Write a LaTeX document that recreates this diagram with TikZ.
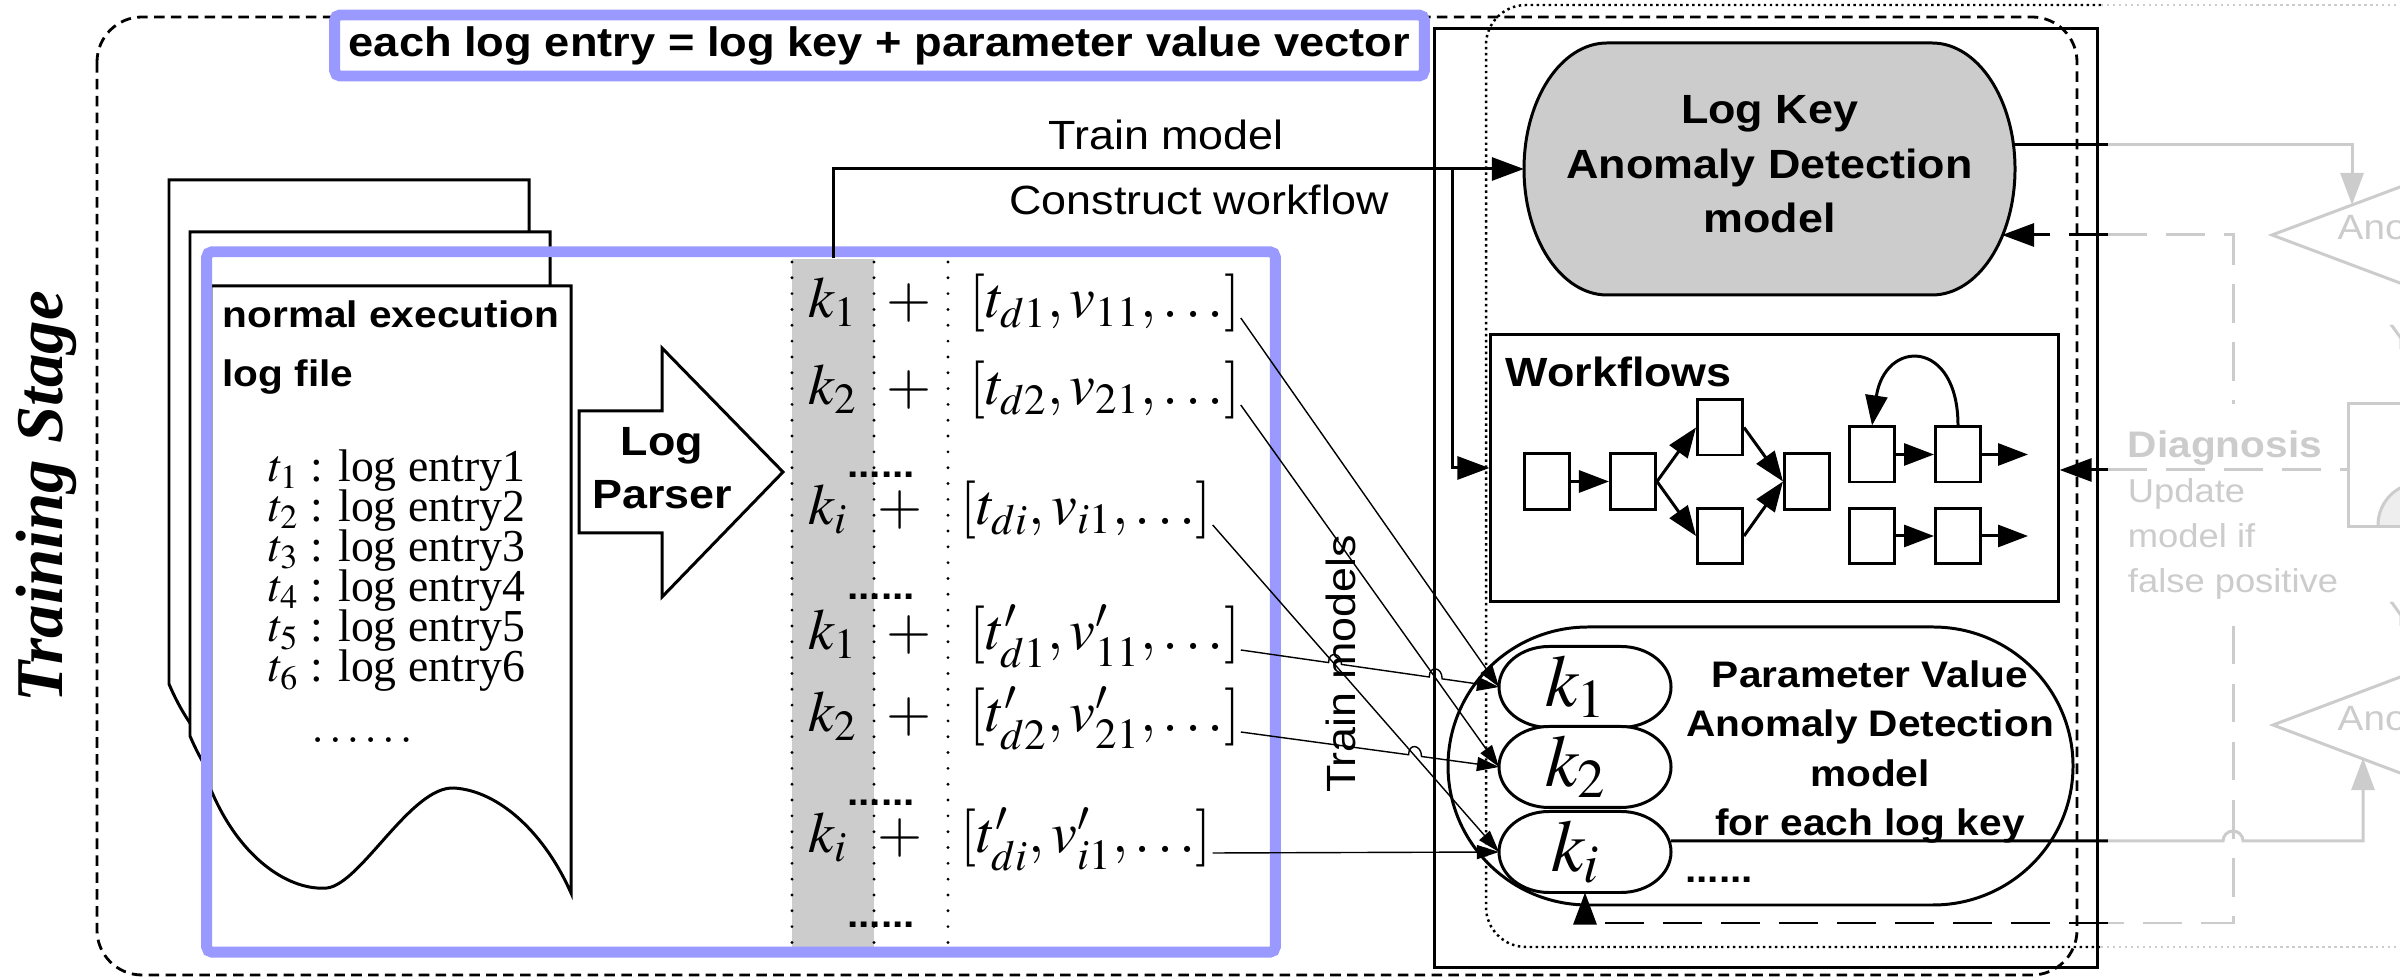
\documentclass[tikz,border=0pt]{standalone}
\usepackage{mathptmx}
\usepackage[no-math]{fontspec}
\setmainfont{Liberation Serif}
\newfontfamily\labelfont[FakeStretch=1.1]{Liberation Sans}
\usetikzlibrary{arrows.meta,calc}

\definecolor{bluebox}{HTML}{9999FF}
\definecolor{boxgray}{HTML}{CCCCCC}
\definecolor{fadegray}{HTML}{CCCCCC}
\definecolor{palegray}{HTML}{EEEEEE}

\tikzset{
  heavyline/.style={line width=0.85pt},
  bigtip/.style={-{Triangle[length=0.32cm,width=0.23cm]}},
  wfarrow/.style={-{Triangle[length=0.3cm,width=0.22cm]}},
  smalltip/.style={line width=0.4pt,-{Triangle[length=0.22cm,width=0.14cm]}},
  feedline/.style={line width=0.85pt,dash pattern=on 11pt off 5.5pt},
  greyline/.style={draw=fadegray,line width=0.85pt},
  blueframe/.style={draw=bluebox,line width=3.1pt,rounded corners=1.5pt,inner sep=0pt},
  plainlabel/.style={font=\fontsize{11.6}{14}\labelfont,inner sep=0pt},
  boldlabel/.style={font=\fontsize{11.6}{15.5}\labelfont\bfseries,align=center,inner sep=0pt},
  boldsmall/.style={font=\fontsize{10.5}{14}\labelfont\bfseries,inner sep=0pt},
  greytext/.style={font=\fontsize{10}{12.8}\labelfont,text=fadegray,inner sep=0pt},
  mathcell/.style={font=\fontsize{16.5}{19}\selectfont,inner sep=0pt,anchor=base west},
  logline/.style={font=\fontsize{13}{14}\selectfont,inner sep=0pt,anchor=base west},
  minibox/.style={draw,line width=0.85pt,minimum width=0.45cm,minimum height=0.55cm,inner sep=0pt},
  capnode/.style={inner sep=0pt,outer sep=0pt},
  keynode/.style={capnode,minimum width=1.72cm,minimum height=0.81cm,font=\fontsize{21}{24}\selectfont},
  colsep/.style={line width=0.9pt,dash pattern=on 0pt off 4.5pt,line cap=round},
}

% capsule: centre x, centre y, half width, half height, end radius, options
\newcommand{\capsule}[6]{%
  \draw[#6] ({#1-#3+#5},{#2-#4}) -- ({#1+#3-#5},{#2-#4})
    arc[start angle=90,end angle=-90,x radius=#5*0.01cm,y radius=#4*0.01cm]
    -- ({#1-#3+#5},{#2+#4})
    arc[start angle=270,end angle=90,x radius=#5*0.01cm,y radius=#4*0.01cm] -- cycle;}

\begin{document}
\begin{tikzpicture}[x=0.01cm,y=-0.01cm]
\useasboundingbox (0,0) rectangle (2400,977);
\clip (0,0) rectangle (2400,977);

% stage frames
\draw[line width=0.8pt,dash pattern=on 3pt off 1.8pt,rounded corners=0.45cm] (97,17) rectangle (2077,975);
\draw[line width=0.7pt,densely dotted,rounded corners=0.4cm] (2101,5) -- (1486,5) -- (1486,947) -- (2101,947);
\draw[line width=0.7pt,densely dotted,draw=fadegray] (2101,5) -- (2420,5) (2101,947) -- (2420,947);
\node[draw,heavyline,minimum width=6.62cm,minimum height=9.38cm,inner sep=0pt] (detect) at (1766,498) {};

\node[blueframe,fill=white,minimum width=10.89cm,minimum height=0.61cm,font=\fontsize{11.7}{14}\labelfont\bfseries] (title) at (879.5,45.5) {each log entry = log key + parameter value vector};

% log files
\foreach \dx/\dy in {169/180,190/232,211/286}
  \draw[heavyline,fill=white,shift={(\dx,\dy)}] (0,0) -- (360,0) -- (360,607)
    .. controls (335,550) and (290,505) .. (243,502)
    .. controls (200,500) and (150,598) .. (116,602)
    .. controls (80,605) and (30,575) .. (0,504) -- cycle;
\node[boldsmall,anchor=base west] (docname) at (222,328) {normal execution};
\node[boldsmall,anchor=base west] (doctype) at (222,387) {log file};
\foreach \i in {1,...,6}
  \node[logline] (entry\i) at (268,{442+40*\i}) {$t_{\i}$ : log entry\i};
\node[logline,anchor=base] (entrydots) at (362,743) {$\ldots\ldots$};

% parser
\draw[heavyline,fill=white] (579,411) -- (662,411) -- (662,348) -- (783,472) -- (662,597) -- (662,533) -- (579,533) -- cycle;
\node[boldlabel,font=\fontsize{11.6}{15}\labelfont\bfseries] (parser) at (662,468) {Log\\Parser};

% parsed entries
\node[fill=boxgray,minimum width=0.82cm,minimum height=6.9cm,inner sep=0pt] (kcol) at (833,604) {};
\foreach \x in {792,874,948}
  \draw[colsep] (\x,262) -- (\x,948);
\foreach \n/\y/\s/\p/\x in {1/318/1//969,2/405/2//969,3/525/i//960,4/650/1/'/969,5/732/2/'/969,6/853/i/'/960}{
  \node[mathcell] (key\n) at (808,\y) {$k_\s$};
  \node[mathcell] (plus\n) at ({\x-83},\y) {$+$};
  \node[mathcell] (vec\n) at (\x,\y) {$[t\p_{d\s},v\p_{\s1},\ldots]$};
}
\foreach \y [count=\j] in {475,597,803,925}
  \node[boldsmall] (gap\j) at (881,\y) {......};
\node[blueframe,minimum width=10.68cm,minimum height=7cm] (logbox) at (741,602) {};

% log key model
\capsule{1769.5}{169}{245.5}{126}{83}{heavyline,fill=boxgray}
\node[boldlabel,capnode,minimum width=4.91cm,minimum height=2.52cm] (lk) at (1769.5,169) {Log Key\\Anomaly Detection\\model\\[-0.45cm]};
\draw[heavyline,bigtip] (kcol.north) |- (lk.west);
\coordinate (split) at (1452,169);
\node[plainlabel,anchor=base] (trainlk) at (1166,150) {Train model};
\node[plainlabel,anchor=base] (buildwf) at (1199,215) {Construct workflow};

% workflows
\node[draw,heavyline,minimum width=5.67cm,minimum height=2.66cm,inner sep=0pt] (wf) at (1774.5,468) {};
\draw[heavyline,bigtip] (split) |- (wf.west);
\node[boldlabel,anchor=base west] (wflabel) at (1505,387) {Workflows};
\node[minibox] (w1) at (1546.5,481.5) {};
\node[minibox] (w2) at (1633,481.5) {};
\node[minibox] (w3) at (1720,427.5) {};
\node[minibox] (w4) at (1720,536) {};
\node[minibox] (w5) at (1807,481.5) {};
\node[minibox] (w6) at (1872,454.5) {};
\node[minibox] (w7) at (1958,454.5) {};
\node[minibox] (w8) at (1872,536) {};
\node[minibox] (w9) at (1958,536) {};
\coordinate (w7out) at (2028,454.5);
\coordinate (w9out) at (2028,536);
\foreach \a/\b in {w1/w2,w2/w3,w2/w4,w3/w5,w4/w5,w6/w7,w8/w9}
  \draw[heavyline,wfarrow] (\a.east) -- (\b.west);
\draw[heavyline,wfarrow] (w7.east) -- (w7out);
\draw[heavyline,wfarrow] (w9.east) -- (w9out);
\draw[heavyline,wfarrow] (w7.north) .. controls +(0,-87) and +(13,-87) .. (w6.north);

% parameter value model
\capsule{1760.5}{766}{312.5}{139}{140}{heavyline}
\node[boldsmall,align=center] (pv) at (1870,752) {Parameter Value\\Anomaly Detection\\model\\for each log key};
\node[boldsmall,anchor=base] (pvdots) at (1719,883) {......};
\capsule{1585}{687}{86}{40.5}{50}{heavyline,fill=white}
\capsule{1585}{767}{86}{40.5}{50}{heavyline,fill=white}
\capsule{1585}{852}{86}{40.5}{50}{heavyline,fill=white}
\node[keynode] (pk1) at (1585,687) {\hspace*{-0.18cm}$k_1$};
\node[keynode] (pk2) at (1585,767) {\hspace*{-0.18cm}$k_2$};
\node[keynode] (pki) at (1585,852) {\hspace*{-0.18cm}$k_i$};

\foreach \s/\t in {vec1/pk1,vec2/pk2,vec3/pki,vec6/pki}
  \draw[smalltip] (\s.base east) -- (\t.west);
\draw[smalltip] (vec4.base east) -- ($(vec4.base east)!0.34!(pk1.west)$)
  .. controls +(0,-12) and +(0,-12) .. ($(vec4.base east)!0.39!(pk1.west)$)
  -- ($(vec4.base east)!0.73!(pk1.west)$)
  .. controls +(0,-12) and +(0,-12) .. ($(vec4.base east)!0.78!(pk1.west)$) -- (pk1.west);
\draw[smalltip] (vec5.base east) -- ($(vec5.base east)!0.65!(pk2.west)$)
  .. controls +(0,-12) and +(0,-12) .. ($(vec5.base east)!0.70!(pk2.west)$) -- (pk2.west);
\node[plainlabel,rotate=90] (trainpv) at (1341,664) {Train models};

% detection side
\coordinate (lkout) at (2013,145);
\coordinate (lkfb) at (2002,235);
\coordinate (cut1) at (2108,145);
\coordinate (cut2) at (2108,235);
\coordinate (cut3) at (2108,470);
\coordinate (cut4) at (2108,923);
\coordinate (cut5) at (2108,841);
\coordinate (tri1in) at (2352,205);
\coordinate (tri2in) at (2363,758);
\node[greytext,align=left,minimum height=2.2cm,font=\fontsize{9.4}{12.8}\labelfont] (diag) at (2233,515) {{\fontsize{10.5}{12.8}\selectfont\bfseries Diagnosis}\\Update\\model if\\false positive};
\node[draw=fadegray,line width=0.85pt,minimum width=1.2cm,minimum height=1.23cm,inner sep=0pt,anchor=north west] (gbox) at (2347,402) {};
\draw[greyline,fill=palegray] (2378,525) arc[start angle=180,end angle=0,radius=0.42cm];

\draw[heavyline] (lkout) -- (cut1);
\draw[greyline,bigtip] (cut1) -| (tri1in);
\draw[feedline,bigtip] (cut2) -- (lkfb);
\draw[feedline,draw=fadegray] (cut2) -| (diag.north);
\draw[heavyline,bigtip] (cut3) -- (cut3 -| wf.east);
\draw[feedline,draw=fadegray] (cut3) -- (cut3 -| gbox.west);
\draw[feedline,bigtip] (cut4) -| (pki.south);
\draw[feedline,draw=fadegray] (diag.south) |- (cut4);
\draw[heavyline] ([yshift=0.11cm]pki.east) -- (cut5);
\draw[greyline,bigtip] (cut5) -- (2223,841) arc[start angle=180,end angle=0,radius=0.1cm] -| (tri2in);

\draw[greyline] (2440,172) -- (2272,235) -- (2440,298);
\draw[greyline] (2440,662) -- (2273,725) -- (2440,788);
\node[greytext,anchor=base west] (ano1) at (2337,240) {Ano};
\node[greytext,anchor=base west] (ano2) at (2337,731) {Ano};
\node[greytext,anchor=base west] (yes1) at (2388,350) {Y};
\node[greytext,anchor=base west] (yes2) at (2388,627) {Y};

\node[rotate=90,font=\fontsize{19}{22}\selectfont\bfseries\itshape] (stage) at (46,497) {Training Stage};
\end{tikzpicture}
\end{document}
